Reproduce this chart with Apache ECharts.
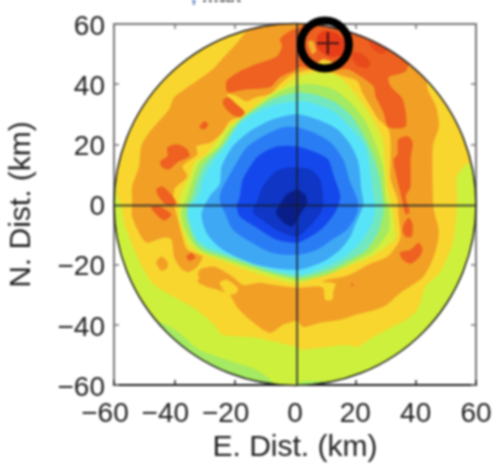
<!DOCTYPE html>
<html><head><meta charset="utf-8">
<style>html,body{margin:0;padding:0;background:#fff;width:495px;height:465px;overflow:hidden}#w{width:495px;height:465px;overflow:hidden}#c{width:495px;height:465px;filter:blur(0.8px)}</style>
<script src="https://cdn.jsdelivr.net/npm/echarts@6/dist/echarts.min.js"></script>
</head><body><div id="w"><div id="c"></div></div>
<script>
const tickValues=[-60,-40,-20,0,20,40,60];
const xTitle='E. Dist. (km)', yTitle='N. Dist. (km)';
const discRadius=60;
const base=[[-70,-70],[70,-70],[70,70],[-70,70]];
const greenWest=[[-44.3,-39.3],[-38.3,-42.7],[-31.7,-48.3],[-20.7,-52.3],[-12.7,-55],[-7.3,-59.3],[-6.7,-63.3],[-48.3,-63.3],[-48.3,-39.3]];
const greenEast=[[0.7,-59.7],[5,-58.7],[11,-59.3],[11,-63.3],[0.7,-63.3]];
const yellowOuter=[[-59.7,9],[-59,2.7],[-57.7,0],[-56.7,-6],[-54,-13.3],[-50.7,-20.7],[-46.7,-26.7],[-38.3,-31.7],[-32.7,-35],[-26.7,-40],[-24,-43.3],[-16,-44],[-9.3,-45],[0.7,-47.3],[1.7,-48.3],[7.3,-47.7],[17.3,-46.7],[21,-47.3],[26,-44],[35,-39.3],[39,-36.7],[41,-34],[43.3,-27.3],[48.3,-22.3],[52.3,-12.7],[53.3,-6],[53.7,-0.7],[53.7,2.7],[53.7,9.3],[56.7,13.3],[59.3,14],[68,15],[68,68],[-68,68],[-68,9]];
const orangeOuter=[[-16,58.3],[-19,54],[-23.3,49.3],[-27.3,45],[-32.7,41],[-40,35.7],[-41.7,31.7],[-48.3,24],[-51,19.3],[-51.7,12.7],[-54,6],[-54,1.7],[-54,-4],[-51,-10.7],[-49,-12.7],[-43.3,-11],[-41,-11.7],[-40,-17.7],[-37.3,-21.7],[-31.7,-24],[-32.3,-25.7],[-29.3,-27.3],[-25.7,-28.3],[-21.7,-30],[-19.3,-34],[-15,-38.3],[-8.3,-42.7],[-4,-40],[0.7,-38.7],[2.7,-40.7],[8.3,-39.3],[15,-38.3],[20,-36.7],[29.3,-34],[35,-29.3],[42.3,-24.3],[46,-17.3],[47.7,-9.3],[46,-1.7],[45.7,2.7],[45.7,19.3],[47.7,26],[46.7,32.7],[44,38.3],[44,42.7],[50,48.3],[50,68],[-16,68]];
const orangeIslet=[[-46,-19.3],[-44.3,-17.3],[-42.3,-19],[-42.3,-21],[-44.3,-22]];
const yellowInner=[[-22.3,36.7],[-19.3,36],[-16,34.3],[-12.7,35.7],[-8.3,36.7],[-5,40],[-0.7,43.3],[8.3,45],[16,42.7],[20.7,41],[22.3,37.3],[25,32.7],[27.7,28.3],[31,25],[31.7,20.7],[31.7,15],[31.7,8.3],[34,1.7],[34.3,-3.3],[35,-10],[34.3,-12.7],[30.7,-17.3],[24.3,-20],[18.3,-23.3],[15,-24.3],[10.7,-25],[9,-25.7],[13.3,-26.3],[12.7,-29],[12.3,-31.7],[10,-31.7],[9.3,-27.7],[5,-27.3],[0.7,-27.7],[-7.3,-26.7],[-11.7,-26],[-17.3,-26.7],[-20.7,-24],[-26.7,-20.7],[-31.7,-21.7],[-32.3,-23.7],[-34.3,-25],[-36.3,-23.3],[-32.7,-21],[-30.7,-17.3],[-35.7,-15],[-37.7,-9.3],[-39,-4.3],[-40,-0.7],[-40,5],[-35.7,9.3],[-37.3,12.7],[-32.3,16.7],[-32.7,19.3],[-27.7,20.7],[-24,24],[-21.7,27.7],[-16.7,30],[-18.3,32.3],[-22.3,35]];
const yellowIslet=[[-25,-26],[-22.7,-25],[-19,-27.7],[-19.3,-29.3],[-22.3,-30]];
const limeLevel=[[0.7,42.3],[6,43.7],[12.7,43.3],[16.7,40.7],[20,36.7],[23.3,32.3],[26.7,26.7],[29,21.7],[30,12.7],[30.7,5],[32,0.7],[32.7,-5],[33.3,-11],[30.3,-14],[26,-17],[20.7,-19.3],[14,-22],[8.3,-23.7],[0.7,-26.3],[-9.3,-24],[-17.3,-21.3],[-22.7,-19.3],[-30.7,-16.3],[-35,-13.7],[-38.3,-5],[-38.3,1.7],[-37.3,5],[-35,9.3],[-33.3,14],[-30,16],[-26,21],[-22.3,25.7],[-17.3,29],[-9.3,36],[-4.3,38.7]];
const greenLevel=[[0.7,39.7],[6,40],[12.7,38.3],[18.3,34],[23.3,27.7],[26.7,20],[29.3,11.7],[30,2.7],[31.3,-2.7],[31,-9],[25.7,-15.7],[19,-19.3],[11.7,-23],[1.7,-25.3],[-7.3,-23.3],[-17.3,-20.3],[-25,-17.7],[-30.7,-15.7],[-34,-12.7],[-37,-6.7],[-37.7,-2.3],[-35.7,2.7],[-34,8.3],[-31.7,14],[-25.3,19.3],[-22.3,24],[-18.3,28.3],[-14,31.7],[-7.3,36.3]];
const aquaLevel=[[0.7,37.3],[6,36.7],[12.7,34.3],[18.3,30],[22.3,24],[25.7,16.7],[27.7,10.7],[29,2.7],[29.3,-2.3],[27.7,-9],[23.7,-15],[18.3,-18.3],[11.7,-21.7],[1.7,-24.3],[-7.3,-22.7],[-17.3,-19.3],[-25,-16.7],[-30,-15],[-33.3,-12],[-36,-4],[-35.7,-0.7],[-34,2.7],[-32.3,8.3],[-30,13.3],[-24.3,19.3],[-21.3,23.3],[-18.3,27.7],[-14,31],[-7.3,35]];
const cyanLevel=[[0.7,34.3],[5,34],[12.7,31],[19,25],[23.3,19.3],[25,10.7],[26,2.7],[26.7,0],[25.7,-6],[21.7,-12.7],[16,-17.7],[9.3,-21],[1.7,-23.3],[-7.3,-21.7],[-17.3,-18.3],[-25,-15.7],[-29.3,-14],[-32.7,-11],[-35.3,-4],[-35,-0.7],[-32,2.7],[-30.7,7.7],[-28.3,12.7],[-23.3,19.3],[-20,25],[-15,29.3],[-7.3,33]];
const skyLevel=[[0.7,30],[7.3,28.3],[14,25],[18.3,20],[21,14],[22,5],[22.7,0],[20.7,-5],[18.3,-10.7],[15,-15],[9.3,-19],[0.7,-21.7],[-12.7,-20],[-24,-15],[-29,-10],[-31,-3.3],[-28.3,2.7],[-25,6.7],[-24.3,12.7],[-20.7,19.3],[-15,24.3],[-7.3,28.3]];
const blueLevel=[[0.7,25.7],[6,24],[11.7,20.7],[16,15],[18.3,7.3],[20.7,1.7],[20.7,-2.7],[17.3,-8.3],[12.3,-11.7],[7.3,-15],[0.7,-16.7],[-7.7,-16],[-15,-12.3],[-20.7,-8.3],[-23.3,-2.7],[-25,1.7],[-24.3,5],[-19.3,14],[-16,19],[-10.7,22.7],[-4,25.7]];
const royalLevel=[[0.7,19.3],[6,17.7],[11,15],[12.7,10],[15,2.7],[13.3,-2.7],[9.3,-7.7],[5,-10.7],[0.7,-12.7],[-6,-11.7],[-12.7,-7.7],[-18.3,-4],[-19.3,-0.7],[-18.3,2.7],[-17.3,8.3],[-12.3,16],[-6,19.3]];
const deepLevel=[[0.7,12.3],[5,11.7],[8.3,8.3],[9.3,2.7],[9,-1.7],[6,-6],[0.7,-10.7],[-5,-9],[-10,-5.7],[-14,-2.7],[-12.3,1.7],[-10.7,6],[-6.7,10.7],[-2.7,12.3]];
const navyLevel=[[0.7,5],[3.3,3.3],[4,0.7],[1.7,-3.3],[-1,-7.3],[-4,-5.7],[-6.3,-2.7],[-5,0],[-2.7,3.3]];
const redBand=[[-22.7,41],[-18.3,44.3],[-12.7,46.7],[-6,49.3],[-4.3,52.7],[-5,55],[-1.7,57.7],[1.7,59],[5,62],[21.7,62],[37.7,50],[36.7,44.3],[31,42.3],[31.7,39.3],[35.7,35],[36.7,26],[31,25.7],[29.3,30.7],[26.7,36],[26,39.3],[20.7,43.3],[17.3,45],[9.3,44.3],[1.7,45.7],[-0.7,44.3],[-5,42.3],[-8.3,39],[-16,38.3],[-22.3,37.3]];
const redB=[[-24,34.3],[-22.3,35.7],[-19.3,33.3],[-16.7,30.7],[-18.3,29],[-21,30],[-23.3,32.3]];
const redC=[[-31.7,25.7],[-30,27.7],[-28.7,26.7],[-30,25]];
const redD=[[-44.7,14.3],[-42.3,16],[-42.3,19],[-39,20],[-35.7,18.3],[-35,16],[-39,14],[-41.7,11.7],[-44,12.3]];
const redE1=[[-46,5],[-44,6],[-41,3.3],[-39.3,0.3],[-42.7,0],[-45,2.3]];
const redE2=[[-47.7,-1],[-45,-0.7],[-41,-3.3],[-43.3,-5.3],[-46,-3.3]];
const redF=[[-36,-17.3],[-34.3,-16],[-33,-17.7],[-35,-18.7]];
const redG=[[34.3,21.7],[37.3,22.7],[39,20.7],[38.3,15],[38.3,6],[36.7,2.7],[37.3,0],[38,-2.7],[36.7,-3.3],[35.7,0.7],[33.3,10.7],[32.7,15],[34,16.7]];
const redH=[[36,-6.7],[37.7,-4.3],[39,-6.7],[38.7,-10.7],[36.7,-10.7],[35.7,-9]];
const redI=[[34.7,-16],[38.3,-15],[41,-12.7],[42.3,-15],[41,-17.7],[38.3,-19.7],[35.7,-18.3]];
const redJ=[[18.7,-26.3],[19.3,-26.3],[19.3,-27],[18.7,-27]];
const crimsonA=[[24.3,54.3],[27.3,54.3],[30.7,51.7],[29.3,50],[26.7,51]];
const crimsonB=[[19.3,50.7],[22.3,50],[25,47.3],[24,45.3],[21,46],[19,48.3]];
const peakRed=[[7.3,55.7],[9.3,57.7],[13.3,57.3],[16.7,54],[16,50],[11.7,49],[7.7,51.7]];
const peakAmber=[[4.3,54],[6,54.3],[7,51],[5.7,50]];
const peakYellow=[[7.3,46.7],[9.3,48.3],[12.3,47.3],[11.7,46]];
const crossX=[0.7,-0.3];
const ringCentre=[9.9,53.2];
const epicentre=[10.9,53.6];

const layers=[
 [base,'#cdf03c'],[greenWest,'#a4ea62'],[greenEast,'#a4ea62'],
 [yellowOuter,'#f8d62e'],[orangeOuter,'#f29f26'],[yellowInner,'#f8d62e'],[yellowIslet,'#f8d62e'],[orangeIslet,'#f29f26'],
 [limeLevel,'#d4ee3e'],[greenLevel,'#a4ea62'],[aquaLevel,'#72e8c0'],[cyanLevel,'#58e4f8'],[skyLevel,'#3ea8f5'],
 [blueLevel,'#2a7cf4'],[royalLevel,'#1448ec'],[deepLevel,'#0f36c4'],[navyLevel,'#0a1e8a'],
 [redBand,'#ee6120'],[redB,'#ee6120'],[redC,'#ee6120'],[redD,'#ee6120'],[redE1,'#ee6120'],[redE2,'#ee6120'],[redF,'#ee6120'],[redG,'#ee6120'],[redH,'#ee6120'],[redI,'#ee6120'],[redJ,'#ee6120'],
 [crimsonA,'#e84a1c'],[crimsonB,'#e84a1c'],[peakRed,'#e83c18'],[peakAmber,'#f4b030'],[peakYellow,'#f6d030']
];

const font='"Liberation Sans",Arial,sans-serif';
const ink='#222', frame='#777', tickSize=28, titleSize=30;
// Negative tick labels centre on their digits, so the minus sign hangs to the left.
const fmtX=v=>v<0?'{n|\u2212'+Math.abs(v)+'}':String(v);
const fmtY=v=>'{m|'+String(v).replace('-','\u2212')+'}';
const axisBase={min:-60,max:60,interval:20,splitLine:{show:false}};
const chart=echarts.init(document.getElementById('c'),null,{renderer:'canvas'});
chart.setOption({
 animation:false,backgroundColor:'#fff',
 title:{text:'{c|,}{t| Max}',left:186,top:-19,textStyle:{rich:{c:{fontSize:20,color:'#4a7cc0',fontFamily:font},t:{fontSize:20,color:'#444',fontFamily:font}}}},
 grid:{left:114,right:19,top:24,bottom:80,show:false,outerBoundsMode:'none'},
 xAxis:[
  {...axisBase,type:'value',position:'bottom',name:xTitle,nameLocation:'middle',nameGap:47,nameTextStyle:{fontSize:titleSize,color:ink,fontFamily:font},
   axisLine:{show:true,onZero:false,lineStyle:{color:ink,width:2}},axisTick:{inside:true,length:5,lineStyle:{color:ink,width:1.5}},
   axisLabel:{formatter:fmtX,fontSize:tickSize,color:ink,fontFamily:font,margin:15,showMinLabel:true,showMaxLabel:true,
     rich:{n:{fontSize:tickSize,color:ink,fontFamily:font,padding:[0,18,0,0]}}}},
  {...axisBase,type:'value',position:'top',axisLine:{show:true,onZero:false,lineStyle:{color:frame,width:2}},axisTick:{inside:true,length:5,lineStyle:{color:frame,width:1.5}},axisLabel:{show:false}}
 ],
 yAxis:[
  {...axisBase,type:'value',position:'left',name:yTitle,nameLocation:'middle',nameGap:77,nameTextStyle:{fontSize:titleSize,color:ink,fontFamily:font},
   axisLine:{show:true,onZero:false,lineStyle:{color:frame,width:2}},axisTick:{inside:true,length:5,lineStyle:{color:frame,width:1.5}},
   axisLabel:{formatter:fmtY,fontSize:tickSize,color:ink,fontFamily:font,margin:9,showMinLabel:true,showMaxLabel:true,
     rich:{m:{fontSize:tickSize,color:ink,fontFamily:font,padding:[6,0,0,0]}}}},
  {...axisBase,type:'value',position:'right',axisLine:{show:true,onZero:false,lineStyle:{color:frame,width:2}},axisTick:{inside:true,length:5,lineStyle:{color:frame,width:1.5}},axisLabel:{show:false}}
 ],
 series:[
  {type:'custom',coordinateSystem:'cartesian2d',silent:true,clip:false,z:2,
   data:layers.map((l,i)=>[i]),encode:{x:0,y:0},
   renderItem:(p,api)=>{
     const l=layers[api.value(0)];
     const c=api.coord([0,0]),r=api.size([discRadius,0])[0];
     return {type:'polygon',shape:{points:l[0].map(q=>api.coord(q)),smooth:0.25},style:{fill:l[1]},
       clipPath:{type:'circle',shape:{cx:c[0],cy:c[1],r:r}}};
   }},
  {type:'custom',coordinateSystem:'cartesian2d',silent:true,clip:false,z:3,data:[[0,0]],
   renderItem:(p,api)=>{const c=api.coord([0,0]),r=api.size([discRadius,0])[0];
     return {type:'circle',shape:{cx:c[0],cy:c[1],r:r},style:{fill:'none',stroke:'#222',lineWidth:1.5}};}},
  {type:'line',symbol:'none',silent:true,z:4,data:[[-60,crossX[1]],[60,crossX[1]]],lineStyle:{color:'rgba(20,30,50,0.75)',width:2}},
  {type:'line',symbol:'none',silent:true,z:4,data:[[crossX[0],-60],[crossX[0],60]],lineStyle:{color:'rgba(20,30,50,0.75)',width:2}},
  {type:'scatter',silent:true,z:5,data:[epicentre],symbol:'path://M9,0h2v9h9v2h-9v9h-2v-9h-9v-2h9z',symbolSize:22,itemStyle:{color:'#4a1512',opacity:1}},
  {type:'scatter',silent:true,z:6,data:[ringCentre],symbol:'circle',symbolSize:48,itemStyle:{color:'rgba(0,0,0,0)',borderColor:'#000',borderWidth:8,opacity:1}}
 ]
});
</script></body></html>
